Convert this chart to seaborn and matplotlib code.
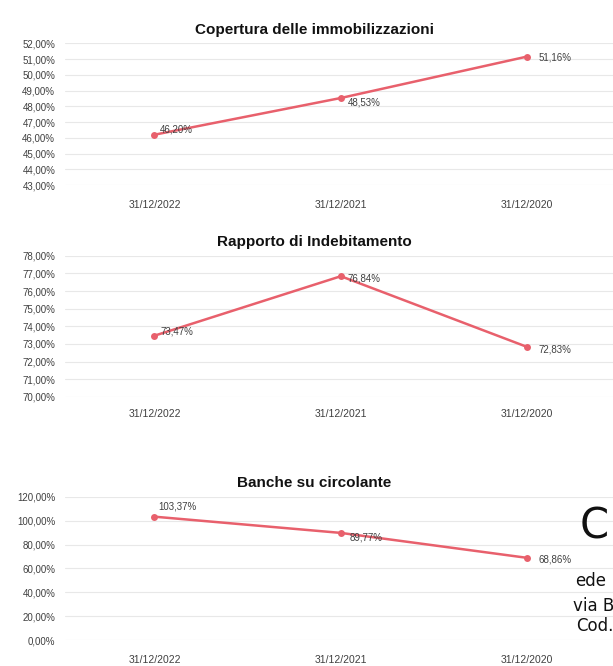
import matplotlib
matplotlib.use("Agg")
import matplotlib.pyplot as plt
import seaborn as sns
import pandas as pd
from matplotlib.ticker import FuncFormatter, MultipleLocator

# Periods shown on the x axis
periods = ["31/12/2022", "31/12/2021", "31/12/2020"]

# Indicator values (percent)
copertura = [46.20, 48.53, 51.16]
indebitamento = [73.47, 76.84, 72.83]
banche = [103.37, 89.77, 68.86]

titles = ["Copertura delle immobilizzazioni", "Rapporto di Indebitamento", "Banche su circolante"]

sns.set_theme(style="white")
plt.rcParams["font.family"] = ["Liberation Sans", "DejaVu Sans"]

LINE = "#e8606c"
GRID = "#e8e8e8"
TXT = "#404040"

fig = plt.figure(figsize=(6.13, 6.66), dpi=100)

def it_pct(v, _pos=None):
    return f"{v:.2f}".replace(".", ",") + "%"

panels = [
    dict(vals=copertura, title=titles[0], rect=[0.106, 0.722, 0.894, 0.213],
         ylim=(43, 52), step=1, offs=[(4, 4), (5, -3), (8, -1)], xpad=11),
    dict(vals=indebitamento, title=titles[1], rect=[0.106, 0.404, 0.894, 0.212],
         ylim=(70, 78), step=1, offs=[(4, 3), (5, -2), (8, -2)], xpad=9),
    dict(vals=banche, title=titles[2], rect=[0.106, 0.039, 0.894, 0.215],
         ylim=(0, 120), step=20, offs=[(3, 7), (6, -3), (8, -1)], xpad=11),
]

for p in panels:
    ax = fig.add_axes(p["rect"])
    df = pd.DataFrame({"periodo": periods, "valore": p["vals"], "x": range(len(periods))})
    sns.lineplot(data=df, x="x", y="valore", ax=ax, color=LINE, linewidth=1.8,
                 marker="o", markersize=5, markeredgewidth=0, markerfacecolor=LINE)
    ax.set_xlim(-0.48, 2.46)
    ax.set_ylim(*p["ylim"])
    ax.yaxis.set_major_locator(MultipleLocator(p["step"]))
    ax.yaxis.set_major_formatter(FuncFormatter(it_pct))
    ax.set_xticks(range(len(periods)))
    ax.set_xticklabels(periods)
    ax.tick_params(axis="y", labelsize=7, colors=TXT, length=0, pad=7)
    ax.tick_params(axis="x", labelsize=7.5, colors=TXT, length=0, pad=p["xpad"])
    ax.grid(axis="y", color=GRID, linewidth=0.8)
    ax.set_axisbelow(True)
    for s in ax.spines.values():
        s.set_visible(False)
    ax.set_xlabel("")
    ax.set_ylabel("")
    ax.set_title(p["title"], fontsize=11, fontweight="bold", color="#111111", pad=7)
    ax.title.set_x(0.455)
    for i, (v, off) in enumerate(zip(p["vals"], p["offs"])):
        ax.annotate(it_pct(v), (i, v), xytext=off, textcoords="offset points",
                    fontsize=7, color=TXT, va="center", ha="left")

# Stamp fragments at the right edge
fig.text(0.945, 0.21, "C", fontsize=30, color="#111111", family="DejaVu Sans", va="center")
fig.text(0.938, 0.127, "ede", fontsize=12, color="#111111", family="DejaVu Sans", va="center")
fig.text(0.935, 0.09, "via B", fontsize=12, color="#111111", family="DejaVu Sans", va="center")
fig.text(0.94, 0.06, "Cod.", fontsize=12, color="#111111", family="DejaVu Sans", va="center")

fig.savefig("out.png", dpi=100)
